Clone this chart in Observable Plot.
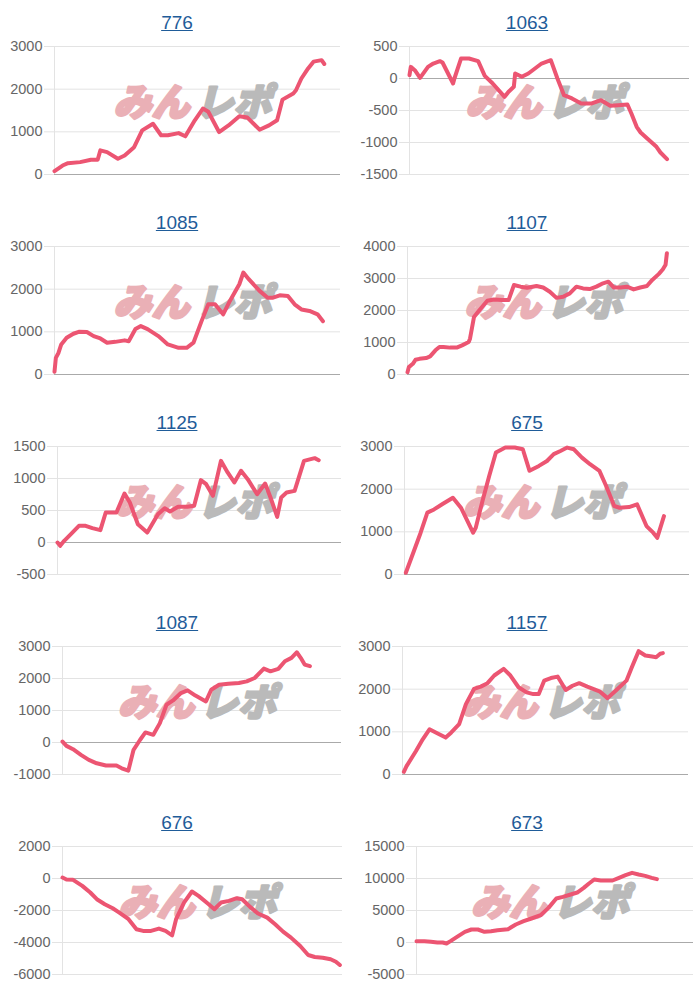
<!DOCTYPE html>
<html><head><meta charset="utf-8">
<script src="https://cdn.jsdelivr.net/npm/d3@7"></script>
<script src="https://cdn.jsdelivr.net/npm/@observablehq/plot@0.6"></script>
<style>
body{margin:0;background:#fff;font-family:"Liberation Sans",Arial,sans-serif;}
#grid{display:grid;grid-template-columns:350px 350px;width:700px;}
.panel{position:relative;width:350px;height:200px;overflow:hidden;}
.title{position:absolute;top:12px;left:2px;width:350px;text-align:center;font-size:19px;color:#1f5c99;text-decoration:underline;}
.panel svg{position:absolute;top:36px;left:0;}
</style></head><body><div id="grid"></div>
<script>
// Titles (machine numbers)
const titles = ["776","1063","1085","1107","1125","675","1087","1157","676","673"];

// Series: [day index, value]
const s776 = [[0,80],[6,210],[10,265],[19,290],[27,345],[32,345],[34,565],[39,525],[47,370],[52,445],[59,640],[65,1035],[73,1190],[79,920],[84,920],[92,970],[97,895],[104,1270],[110,1545],[114,1470],[122,995],[129,1150],[137,1365],[143,1335],[152,1050],[159,1150],[165,1270],[169,1755],[177,1900],[179,1975],[183,2250],[188,2485],[192,2645],[198,2680],[200,2590]];
const s1063 = [[0,52],[1,182],[4,130],[8,10],[14,182],[18,234],[23,271],[25,250],[33,-78],[34,0],[39,312],[45,312],[52,271],[57,42],[63,-78],[72,-286],[75,-208],[79,-130],[80,78],[85,26],[90,78],[95,156],[100,234],[107,286],[112,0],[117,-260],[123,-312],[130,-390],[138,-390],[145,-339],[152,-427],[158,-417],[165,-406],[168,-547],[172,-755],[175,-844],[180,-938],[187,-1068],[190,-1156],[195,-1260]];
const s1085 = [[0,63],[1,390],[3,510],[5,705],[9,860],[14,955],[18,1000],[24,995],[29,900],[34,845],[39,745],[45,765],[52,800],[55,780],[60,1065],[64,1135],[69,1065],[77,900],[84,705],[92,625],[98,625],[103,745],[109,1250],[114,1645],[119,1645],[125,1410],[130,1725],[137,2115],[140,2390],[144,2235],[152,1960],[158,1800],[162,1800],[167,1855],[173,1840],[178,1645],[183,1525],[189,1490],[195,1410],[198,1290],[199,1250]];
const s1107 = [[0,73],[1,230],[4,335],[6,460],[9,490],[14,513],[17,565],[21,755],[24,860],[27,860],[32,840],[37,840],[41,910],[46,1015],[47,1120],[50,1800],[54,2010],[60,2305],[65,2345],[71,2325],[76,2325],[80,2795],[85,2745],[90,2710],[97,2765],[102,2720],[107,2585],[112,2395],[117,2430],[122,2535],[127,2745],[132,2690],[137,2670],[142,2745],[147,2850],[151,2900],[155,2720],[160,2720],[165,2745],[170,2660],[175,2720],[180,2765],[184,2955],[189,3145],[192,3290],[194,3430],[195,3790]];
const s1125 = [[0,0],[2,-52],[5,26],[10,130],[16,260],[21,260],[26,224],[32,193],[36,469],[44,469],[50,766],[54,625],[60,286],[67,156],[75,443],[80,536],[84,484],[90,557],[97,557],[102,573],[107,974],[111,911],[116,729],[122,1276],[127,1094],[132,938],[137,1120],[142,990],[149,755],[155,922],[159,703],[164,401],[167,703],[171,781],[177,807],[184,1276],[189,1302],[192,1318],[195,1286]];
const s675 = [[1,40],[7,550],[12,980],[17,1450],[22,1525],[28,1645],[36,1800],[42,1565],[51,980],[53,1095],[58,1725],[63,2310],[68,2860],[75,2975],[82,2975],[88,2935],[93,2430],[100,2545],[106,2660],[111,2820],[116,2895],[121,2975],[126,2935],[132,2740],[138,2585],[145,2430],[150,2075],[156,1605],[160,1565],[167,1580],[173,1645],[180,1135],[185,980],[188,860],[193,1370]];
const s1087 = [[0,30],[3,-105],[8,-210],[14,-385],[20,-545],[26,-650],[33,-720],[38,-720],[41,-720],[45,-805],[50,-880],[54,-230],[59,85],[63,315],[69,240],[74,605],[79,1180],[84,1315],[90,1545],[95,1630],[101,1465],[109,1285],[113,1650],[119,1805],[126,1835],[134,1860],[140,1910],[146,2015],[153,2310],[158,2225],[164,2300],[169,2540],[174,2645],[178,2820],[181,2645],[184,2435],[188,2385]];
const s1157 = [[1,63],[3,195],[10,550],[15,825],[20,1060],[25,980],[32,865],[36,980],[42,1180],[47,1650],[53,2005],[58,2060],[63,2140],[68,2320],[75,2475],[80,2320],[86,2045],[92,1925],[97,1885],[101,1885],[105,2200],[110,2260],[115,2295],[121,1980],[126,2080],[131,2140],[137,2060],[146,1950],[152,1790],[158,1965],[166,2200],[170,2515],[175,2890],[180,2790],[185,2765],[188,2750],[191,2830],[193,2845]];
const s676 = [[0,60],[3,-60],[8,-85],[15,-460],[21,-875],[26,-1295],[32,-1610],[38,-1860],[43,-2130],[50,-2545],[56,-3170],[61,-3275],[67,-3275],[73,-3130],[78,-3275],[83,-3550],[86,-2545],[92,-1505],[98,-815],[103,-1085],[110,-1565],[115,-1920],[120,-1505],[126,-1400],[132,-1230],[136,-1295],[142,-1775],[148,-2190],[155,-2445],[161,-2860],[167,-3320],[173,-3695],[180,-4220],[186,-4780],[191,-4905],[197,-4950],[203,-5050],[207,-5200],[210,-5405]];
const s673 = [[0,210],[6,210],[11,105],[16,0],[20,0],[23,-155],[26,210],[31,885],[37,1665],[42,2030],[47,2030],[52,1665],[57,1770],[62,1925],[70,2085],[76,2810],[82,3330],[88,3750],[95,4270],[101,5415],[107,6875],[112,7135],[118,7500],[123,7810],[128,8540],[132,9220],[136,9845],[141,9690],[150,9690],[155,10100],[160,10520],[165,10885],[170,10625],[175,10415],[180,10100],[184,9900]];

// Y domains and tick values
const yDomains = [[0,3000],[-1500,500],[0,3000],[0,4000],[-500,1500],[0,3000],[-1000,3000],[0,3000],[-6000,2000],[-5000,15000]];
const yTicks = [
  [0,1000,2000,3000],[-1500,-1000,-500,0,500],[0,1000,2000,3000],[0,1000,2000,3000,4000],
  [-500,0,500,1000,1500],[0,1000,2000,3000],[-1000,0,1000,2000,3000],[0,1000,2000,3000],
  [-6000,-4000,-2000,0,2000],[-5000,0,5000,10000,15000]
];
const series = [s776,s1063,s1085,s1107,s1125,s675,s1087,s1157,s676,s673];
const dayCount = 212;

// layout (margins per panel)
const marginsLeft = [54,59,54,57,57,54,62,52,62,66];
const marginsRight = [10,11,10,11,9,11,9,12,8,7];

const wm = {frameAnchor: "middle", dy: -7, fontSize: 38, fontWeight: 900, fontStyle: "italic", fontFamily: "Noto Sans CJK JP", strokeWidth: 2.5, strokeLinejoin: "round"};

const grid = document.getElementById("grid");
series.forEach((data, i) => {
  const panel = document.createElement("div");
  panel.className = "panel";
  const t = document.createElement("div");
  t.className = "title";
  t.textContent = titles[i];
  panel.appendChild(t);
  const ticks = yTicks[i];
  const chart = Plot.plot({
    width: 350, height: 150,
    marginTop: 10, marginBottom: 12,
    marginLeft: marginsLeft[i], marginRight: marginsRight[i],
    x: {domain: [0, dayCount], axis: null},
    y: {domain: yDomains[i], label: null},
    style: {fontSize: "14.5px", fontFamily: "'Liberation Sans', Arial, sans-serif", background: "transparent"},
    marks: [
      Plot.gridY(ticks, {stroke: "#e3e3e3", strokeOpacity: 1}),
      Plot.axisY(ticks, {tickSize: 10, tickPadding: 2, stroke: "#e3e3e3", fill: "#666", tickFormat: d => String(d), label: null}),
      Plot.ruleX([0], {stroke: "#e3e3e3"}),
      Plot.ruleY([0], {stroke: "#aaaaaa"}),
      Plot.text(["みん"], {...wm, dx: -46, fill: "#eab0b6", stroke: "#eab0b6"}),
      Plot.text(["レポ"], {...wm, dx: 36, fill: "#bababa", stroke: "#bababa"}),
      Plot.line(data, {x: d => d[0], y: d => d[1], stroke: "#ec5572", strokeWidth: 4, strokeLinejoin: "round", strokeLinecap: "round"})
    ]
  });
  panel.appendChild(chart);
  grid.appendChild(panel);
});
</script>
</body></html>
